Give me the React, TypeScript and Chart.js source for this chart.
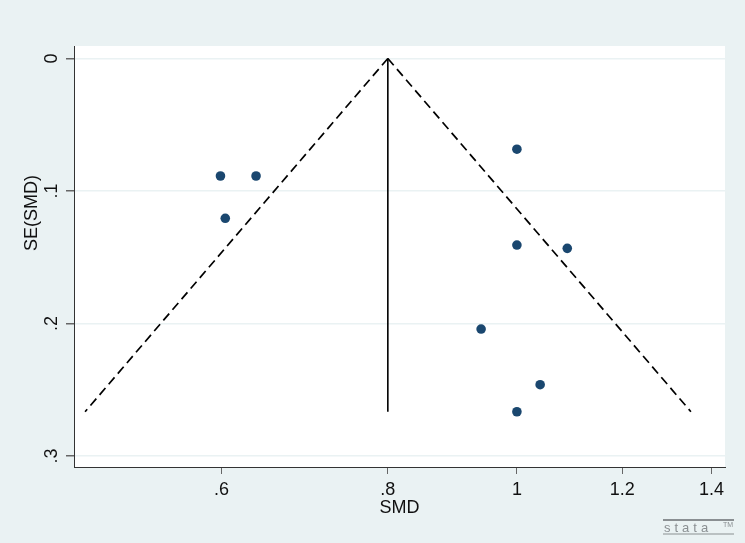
import React, { useEffect, useRef } from "react";
import { Chart, registerables } from "chart.js";

Chart.register(...registerables);

// Study estimates (SMD) and their standard errors
const studySMD = [0.599, 0.637, 0.604, 1.0, 1.0, 1.091, 0.94, 1.041, 1.0];
const studySE = [0.0887, 0.0887, 0.1206, 0.0685, 0.1408, 0.1433, 0.2042, 0.2462, 0.2666];

// Pooled estimate line and pseudo 95% confidence limits
const pooledX = [0.8, 0.8];
const pooledSE = [0, 0.2666];
const funnelLeftX = [0.8, 0.474];
const funnelRightX = [0.8, 1.351];
const funnelSE = [0, 0.2666];

// Axis ticks
const xTicks = [0.6, 0.8, 1, 1.2, 1.4];
const xTickLabels = [".6", ".8", "1", "1.2", "1.4"];
const yTicks = [0, 0.1, 0.2, 0.3];
const yTickLabels = ["0", ".1", ".2", ".3"];

const FONT = "'Liberation Sans', Arial, Helvetica, sans-serif";
const FS = 18;
const BG = "#EAF2F3";
const NAVY = "#1A476F";

const zip = (xs: number[], ys: number[]) => xs.map((x, i) => ({ x, y: ys[i] }));

const stataPlugin = {
  id: "stataLook",
  beforeDraw(chart: any) {
    const { ctx, chartArea } = chart;
    ctx.save();
    ctx.fillStyle = BG;
    ctx.fillRect(0, 0, chart.width, chart.height);
    ctx.fillStyle = "#FFFFFF";
    ctx.fillRect(
      chartArea.left,
      chartArea.top,
      chartArea.right - chartArea.left,
      chartArea.bottom - chartArea.top
    );
    ctx.restore();
  },
  afterDraw(chart: any) {
    const { ctx, chartArea } = chart;
    const yScale = chart.scales.y;
    ctx.save();
    ctx.fillStyle = "#111111";
    ctx.font = `${FS}px ${FONT}`;
    ctx.textAlign = "center";
    ctx.textBaseline = "middle";
    // rotated y tick labels
    yTicks.forEach((v, i) => {
      const py = yScale.getPixelForValue(v);
      ctx.save();
      ctx.translate(chartArea.left - 22, py);
      ctx.rotate(-Math.PI / 2);
      ctx.fillText(yTickLabels[i], 0, 0);
      ctx.restore();
    });
    // y axis title
    ctx.save();
    ctx.translate(chartArea.left - 42, chartArea.top + 167);
    ctx.rotate(-Math.PI / 2);
    ctx.fillText("SE(SMD)", 0, 0);
    ctx.restore();

    // stata logo
    ctx.strokeStyle = "#8A8F92";
    ctx.lineWidth = 2;
    ctx.beginPath();
    ctx.moveTo(663, 520);
    ctx.lineTo(734, 520);
    ctx.stroke();
    ctx.lineWidth = 1.2;
    ctx.beginPath();
    ctx.moveTo(663, 534);
    ctx.lineTo(734, 534);
    ctx.stroke();
    ctx.fillStyle = "#8A8F92";
    ctx.font = `13px ${FONT}`;
    ctx.textAlign = "left";
    ctx.textBaseline = "middle";
    (ctx as any).letterSpacing = "4px";
    ctx.fillText("stata", 664, 528);
    (ctx as any).letterSpacing = "0px";
    ctx.font = `7px ${FONT}`;
    ctx.fillText("TM", 723, 525);
    ctx.restore();
  },
};

export default function App() {
  const ref = useRef<HTMLCanvasElement | null>(null);

  useEffect(() => {
    if (!ref.current) return;
    const chart = new Chart(ref.current, {
      type: "scatter",
      data: {
        datasets: [
          {
            label: "Studies",
            data: zip(studySMD, studySE),
            showLine: false,
            pointRadius: 4.8,
            pointHoverRadius: 4.8,
            backgroundColor: NAVY,
            borderColor: NAVY,
            borderWidth: 0,
          },
          {
            label: "Pooled",
            data: zip(pooledX, pooledSE),
            showLine: true,
            borderColor: "#000000",
            borderWidth: 1.6,
            pointRadius: 0,
          },
          {
            label: "Lower limit",
            data: zip(funnelLeftX, funnelSE),
            showLine: true,
            borderColor: "#000000",
            borderWidth: 1.7,
            borderDash: [9, 5],
            pointRadius: 0,
          },
          {
            label: "Upper limit",
            data: zip(funnelRightX, funnelSE),
            showLine: true,
            borderColor: "#000000",
            borderWidth: 1.7,
            borderDash: [9, 5],
            pointRadius: 0,
          },
        ],
      },
      options: {
        responsive: false,
        animation: false,
        devicePixelRatio: 1,
        layout: { padding: { top: 46, right: 20, left: 0, bottom: 0 } },
        plugins: {
          legend: { display: false },
          tooltip: { enabled: false },
        },
        scales: {
          x: {
            type: "logarithmic",
            min: 0.465,
            max: 1.433,
            afterBuildTicks: (s: any) => {
              s.ticks = xTicks.map((v) => ({ value: v }));
            },
            afterFit: (s: any) => {
              s.height = 76;
            },
            ticks: {
              autoSkip: false,
              maxRotation: 0,
              minRotation: 0,
              padding: 5,
              color: "#111111",
              font: { family: FONT, size: FS },
              callback: (_v: any, i: number) => xTickLabels[i],
            },
            grid: {
              display: true,
              drawOnChartArea: false,
              drawTicks: true,
              tickLength: 7,
              tickColor: "#666666",
            },
            border: { display: true, color: "#333333", width: 1 },
            title: {
              display: true,
              text: "SMD",
              color: "#111111",
              font: { family: FONT, size: FS },
              padding: { top: 0, bottom: 24 },
            },
          },
          y: {
            type: "linear",
            reverse: true,
            min: -0.0094,
            max: 0.3083,
            afterBuildTicks: (s: any) => {
              s.ticks = yTicks.map((v) => ({ value: v }));
            },
            afterFit: (s: any) => {
              s.width = 74;
            },
            ticks: { display: false },
            grid: {
              display: true,
              drawOnChartArea: true,
              color: BG,
              lineWidth: 1.5,
              drawTicks: true,
              tickLength: 8,
              tickColor: "#666666",
            },
            border: { display: true, color: "#333333", width: 1 },
          },
        },
      },
      plugins: [stataPlugin],
    });
    return () => chart.destroy();
  }, []);

  return (
    <div style={{ position: "fixed", left: 0, top: 0, width: 745, height: 543 }}>
      <canvas ref={ref} width={745} height={543} style={{ width: 745, height: 543, display: "block" }} />
    </div>
  );
}
